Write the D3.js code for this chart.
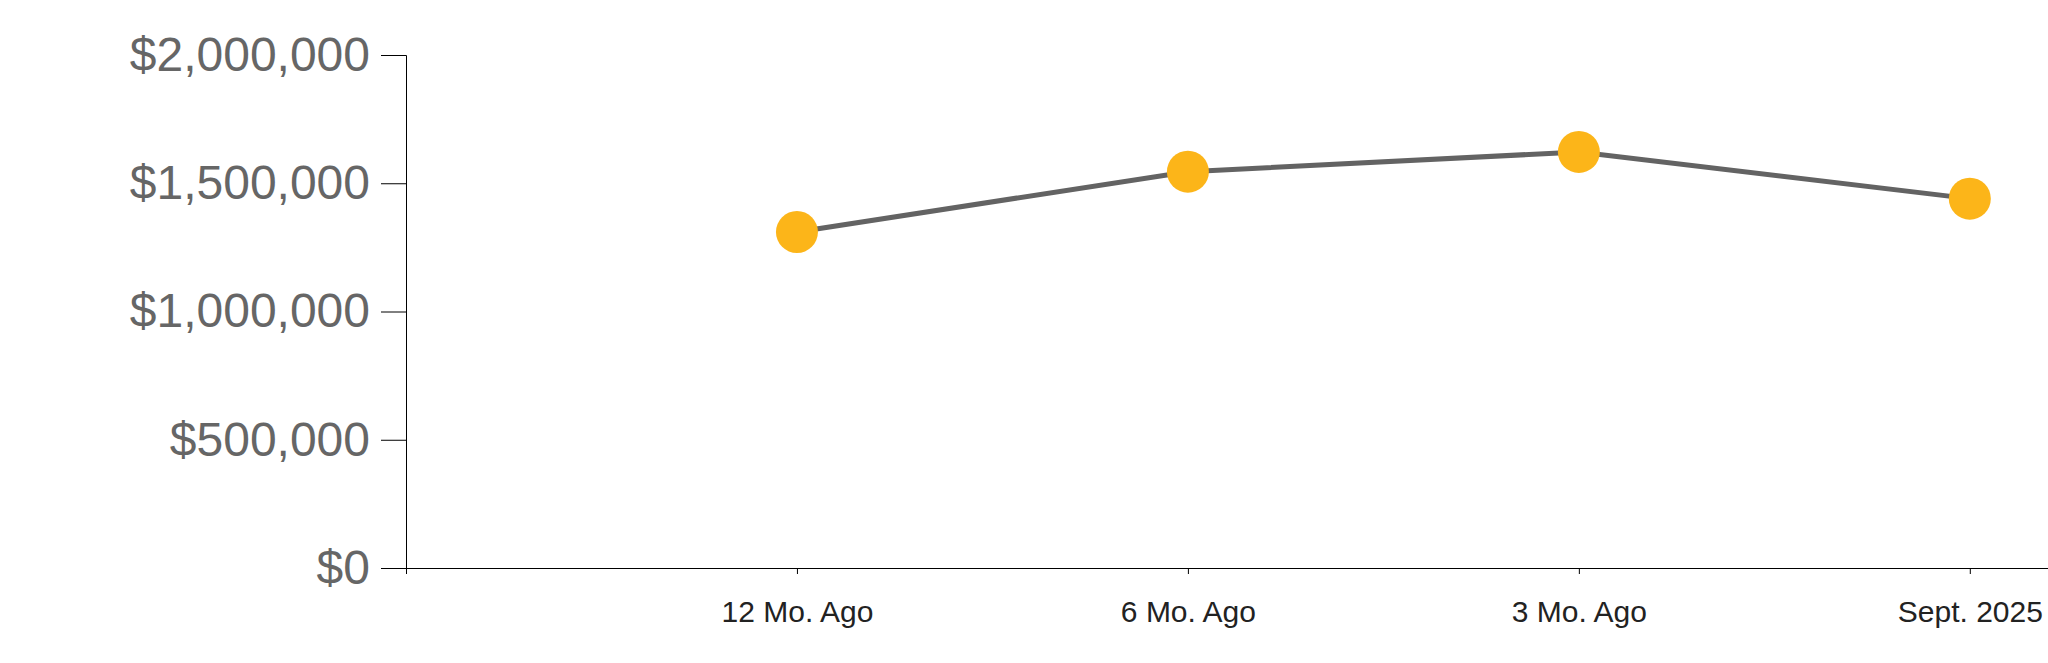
<!DOCTYPE html>
<html>
<head>
<meta charset="utf-8">
<script src="https://cdn.jsdelivr.net/npm/d3@7"></script>
<style>
  html, body { margin: 0; padding: 0; background: #fff; }
  svg { display: block; }
</style>
</head>
<body>
<svg id="chart" width="2048" height="663"></svg>
<script>
const categories = ["12 Mo. Ago", "6 Mo. Ago", "3 Mo. Ago", "Sept. 2025"];
const values = [1310000, 1545000, 1622000, 1440000];
const yTicks = [0, 500000, 1000000, 1500000, 2000000];

const W = 2048, H = 663;
const margin = { left: 406, right: 0, top: 55, bottom: 95 };
const svg = d3.select("#chart");

const x = d3.scaleLinear()
  .domain([0, categories.length + 0.2])
  .range([margin.left, W - margin.right]);
const y = d3.scaleLinear()
  .domain([0, 2000000])
  .range([H - margin.bottom, margin.top]);

const fmt = d3.format("$,");

// Y axis
const yAxis = svg.append("g")
  .attr("transform", `translate(${margin.left},0)`)
  .call(d3.axisLeft(y).tickValues(yTicks).tickFormat(fmt).tickSize(25).tickPadding(11));
yAxis.selectAll("path, line").attr("stroke", "#000");
yAxis.selectAll("text")
  .attr("fill", "#666")
  .style("font-family", "'Liberation Sans', Arial, sans-serif")
  .style("font-size", "48px");

// X axis
const xIdx = d3.range(0, categories.length + 1);
const xAxis = svg.append("g")
  .attr("transform", `translate(0,${H - margin.bottom})`)
  .call(d3.axisBottom(x).tickValues(xIdx)
    .tickFormat(i => i === 0 ? "" : categories[i - 1])
    .tickSize(6).tickSizeOuter(0).tickPadding(27));
xAxis.selectAll("path, line").attr("stroke", "#000");
xAxis.selectAll("text")
  .attr("fill", "#222")
  .style("font-family", "'Liberation Sans', Arial, sans-serif")
  .style("font-size", "30px");

// Line
const pts = values.map((v, i) => ({ i: i + 1, v }));
svg.append("path")
  .datum(pts)
  .attr("fill", "none")
  .attr("stroke", "#636363")
  .attr("stroke-width", 5)
  .attr("d", d3.line().x(d => x(d.i)).y(d => y(d.v)));

svg.selectAll("circle.pt")
  .data(pts)
  .join("circle")
  .attr("class", "pt")
  .attr("cx", d => x(d.i))
  .attr("cy", d => y(d.v))
  .attr("r", 21)
  .attr("fill", "#FCB519");
</script>
</body>
</html>
